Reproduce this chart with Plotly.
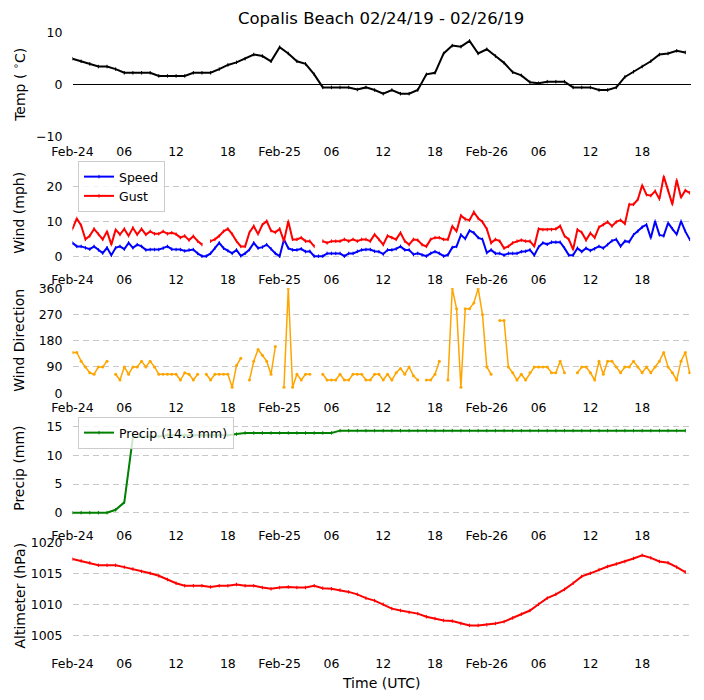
import pandas as pd
import plotly.graph_objs as go

# time axis ticks (every 6 h)
tick_hours = [0, 6, 12, 18, 24, 30, 36, 42, 48, 54, 60, 66]
tick_labels = ["Feb-24", "06", "12", "18", "Feb-25", "06", "12", "18",
               "Feb-26", "06", "12", "18"]

# hourly obs, Feb-24 00 UTC .. Feb-26 23 UTC
temp_c = [5.0, 4.5, 4.0, 3.5, 3.5, 3.0, 2.3, 2.3, 2.3, 2.3, 1.7, 1.7,
          1.7, 1.7, 2.3, 2.3, 2.3, 3.0, 3.8, 4.3, 5.0, 5.8, 5.5, 4.5,
          7.2, 6.0, 4.5, 4.0, 2.0, -0.5, -0.5, -0.5, -0.5, -0.9, -0.5, -1.0,
          -1.7, -1.0, -1.7, -1.7, -1.0, 2.0, 2.3, 6.0, 7.5, 7.3, 8.4, 6.0,
          6.8, 5.5, 4.2, 2.4, 1.8, 0.5, 0.3, 0.6, 0.6, 0.6, -0.5, -0.5,
          -0.5, -1.0, -1.0, -0.5, 1.5, 2.5, 3.5, 4.5, 5.8, 6.0, 6.5, 6.2]

precip_mm = [0.0, 0.0, 0.0, 0.0, 0.0, 0.5, 1.8, 13.2, 13.3, 13.3, 13.3, 13.5,
             13.5, 13.5, 13.5, 13.5, 13.5, 13.5, 13.5, 13.7, 13.9, 13.9, 13.9, 13.9,
             13.9, 13.9, 13.9, 13.9, 13.9, 13.9, 13.9, 14.3, 14.3, 14.3, 14.3, 14.3,
             14.3, 14.3, 14.3, 14.3, 14.3, 14.3, 14.3, 14.3, 14.3, 14.3, 14.3, 14.3,
             14.3, 14.3, 14.3, 14.3, 14.3, 14.3, 14.3, 14.3, 14.3, 14.3, 14.3, 14.3,
             14.3, 14.3, 14.3, 14.3, 14.3, 14.3, 14.3, 14.3, 14.3, 14.3, 14.3, 14.3]

altimeter_hpa = [1017.3, 1017.0, 1016.7, 1016.3, 1016.3, 1016.3, 1016.0, 1015.7,
                 1015.3, 1015.0, 1014.6, 1014.0, 1013.4, 1013.0, 1013.0, 1013.0,
                 1012.8, 1013.0, 1013.0, 1013.2, 1013.0, 1013.0, 1012.7, 1012.5,
                 1012.7, 1012.8, 1012.7, 1012.7, 1013.0, 1012.6, 1012.5, 1012.3,
                 1012.0, 1011.6, 1011.0, 1010.6, 1010.0, 1009.3, 1009.0, 1008.7,
                 1008.5, 1008.0, 1007.7, 1007.4, 1007.3, 1006.9, 1006.6, 1006.6,
                 1006.7, 1006.9, 1007.2, 1007.8, 1008.4, 1009.0, 1010.0, 1011.0,
                 1011.6, 1012.4, 1013.4, 1014.5, 1015.0, 1015.6, 1016.1, 1016.5,
                 1016.9, 1017.4, 1017.9, 1017.5, 1016.9, 1016.7, 1016.0, 1015.2]

# half-hourly wind obs
wind_speed = [4, 3, 3, 2.6, 2.2, 3, 2, 1.1, 2.6, 0.5, 2.6, 3,
              2.2, 4, 2.6, 3.5, 3, 2, 2.1, 2.1, 2.1, 2.5, 3, 2.2,
              2.1, 2.1, 1.7, 2, 2.1, 1, 0.2, 0.2, 1, 2.5, 4, 2.5,
              1.8, 1, 2, 0.3, 1, 2.1, 4, 2.5, 2.8, 3.5, 2.3, 1,
              0.2, 5, 2.5, 2, 2, 2.3, 1.5, 1.6, 0.2, 0.2, 0.2, 1,
              1, 1, 1, 0.2, 1, 1, 1.6, 2, 2.1, 2.1, 1.6, 1.5,
              0.8, 2, 2, 2.3, 3, 2, 2, 0.7, 1, 0.5, 0.2, 1,
              1.5, 1, 0.2, 0.6, 2.7, 3, 6.3, 5.2, 7.5, 6.9, 5.5, 5,
              1.2, 2, 1, 1, 0.5, 1, 1, 1, 1.5, 1.6, 2, 0.5,
              2.8, 4, 3.6, 4.2, 4.2, 4.2, 2.5, 0.5, 0.5, 2.5, 1.5, 2.5,
              1.8, 2.3, 3, 2.5, 3.5, 4.6, 5, 3, 4.5, 4.3, 6.3, 7.3,
              8.5, 9.2, 5.4, 10.2, 6.3, 6, 9.7, 8, 6.4, 10.2, 7.3, 5]

wind_gust = [8, 11, 9, 5, 6, 8, 6.5, 5, 7.3, 3.5, 7.8, 6.4,
             8, 6, 8.3, 6.4, 8, 6.4, 7.3, 6.6, 6.6, 7.3, 6.6, 6.9,
             6.5, 5.5, 6, 4.8, 5.9, 4.5, 3.5, None, 4.5, 5, 6, 7.3,
             8, 6.5, 4.5, 3, 3, 7, 8.8, 6.5, 9.2, 10.2, 7.5, 7,
             8, 4.5, 10.2, 5, 5, 5.5, 4.5, 4.5, 3, None, 4.5, 4,
             4.5, 4.5, 4.5, 5, 4.5, 5, 4.5, 5, 5, 4.5, 6.4, 5,
             3.5, 6, 5.5, 5, 6.9, 4.5, 3.5, 5, 4.8, 3.5, 3, 5,
             5.5, 5.5, 5, 5, 8.8, 7.3, 11.8, 10.8, 10.5, 12.8, 11, 10,
             8, 4, 5, 4.5, 2.5, 3, 4, 4.5, 4.8, 4.5, 4.5, 3,
             8, 7.8, 7.8, 7.8, 8, 8.8, 6, 5, 2.1, 7.8, 7, 4.8,
             6.8, 5.5, 8.5, 9.2, 10, 8.8, 10, 10.5, 9.5, 15, 15, 16.4,
             20.5, 17.8, 17.5, 18.8, 16.5, 23, 19, 15, 22, 17, 19, 18.3]

wind_dir = [140, 140, 110, 90, 70, 65, 90, 90, 110, None, 65, 45,
            90, 65, 90, 90, 110, 90, 110, 90, 65, 65, 65, 65,
            65, 45, 70, 65, 45, 65, None, 65, 45, 65, 65, 65,
            65, 20, 95, 120, None, 45, 110, 150, 130, 110, 65, 160,
            None, 20, 360, 20, 65, 45, 65, 65, None, None, 65, 45,
            45, 45, 65, 45, 45, 65, 65, 65, 45, 45, 65, 65,
            45, 65, 45, 70, 85, 65, 90, 60, 45, None, 45, 45,
            65, 110, None, 45, 360, 290, 20, 290, 290, 310, 360, 270,
            90, 65, None, 250, 250, 90, 70, 45, 65, 45, 70, 90,
            90, 90, 90, 70, 70, 110, 70, None, None, 70, 90, 90,
            70, 45, 110, 65, 110, 110, 90, 70, 90, 90, 110, 90,
            70, 90, 70, 90, 110, 140, 90, 70, 45, 110, 140, 70]

t_hour = pd.date_range("2019-02-24 00:00", periods=len(temp_c), freq="h")
t_half = pd.date_range("2019-02-24 00:00", periods=len(wind_speed), freq="30min")
t0 = pd.Timestamp("2019-02-24 00:00")
tick_vals = [t0 + pd.Timedelta(hours=h) for h in tick_hours]
x_end = t0 + pd.Timedelta(hours=71.6)

W, H = 704, 700
OFF = 8  # the page body adds an 8 px margin around the figure
FONT = "DejaVu Sans"
# panel pixel boxes (top, bottom) as seen on the page
panels = [(32.3, 137.3), (160.3, 265.3), (288.3, 393.3), (416.3, 521.3), (541.7, 649.3)]
x_left, x_right = 72.5, 690.5


def px(x):
    return (x - OFF) / W


def py(y):
    return 1 - (y - OFF) / H


fig = go.Figure()


def add_line(x, y, color, row, name=None, legend=None, msize=2.5):
    fig.add_trace(go.Scatter(
        x=x, y=y, mode="lines+markers", name=name,
        line=dict(color=color, width=2),
        marker=dict(color=color, size=msize, symbol="line-ns-open",
                    line=dict(color=color, width=1)),
        connectgaps=False,
        showlegend=name is not None,
        legend=legend,
        xaxis="x" if row == 1 else f"x{row}",
        yaxis="y" if row == 1 else f"y{row}",
    ))


add_line(t_hour, temp_c, "black", 1)
add_line(t_half, wind_speed, "blue", 2, "Speed", "legend")
add_line(t_half, wind_gust, "red", 2, "Gust", "legend")
fig.add_trace(go.Scatter(
    x=t_half, y=wind_dir, mode="lines+markers", line=dict(color="orange", width=1.5),
    marker=dict(color="orange", size=3), connectgaps=False, showlegend=False,
    xaxis="x3", yaxis="y3"))
add_line(t_hour, precip_mm, "green", 4, "Precip (14.3 mm)", "legend2")
add_line(t_hour, altimeter_hpa, "red", 5)

y_ranges = [[-10.05, 10.05], [-2.4, 27.6], [-0.5, 360.5], [-1.5, 16.8], [1002.74, 1020.1]]
y_ticks = [[-10, 0, 10], [0, 10, 20], [0, 90, 180, 270, 360], [0, 5, 10, 15],
           [1005, 1010, 1015, 1020]]
y_titles = ["Temp ( <sup>∘</sup>C)", "Wind (mph)", "Wind Direction", "Precip (mm)",
            "Altimeter (hPa)"]

layout = dict(
    width=W, height=H,
    margin=dict(l=0, r=0, t=0, b=0, autoexpand=False),
    paper_bgcolor="white", plot_bgcolor="white",
    font=dict(family=FONT, size=12, color="black"),
    annotations=[],
)
for i, (top, bot) in enumerate(panels):
    n = "" if i == 0 else str(i + 1)
    layout[f"xaxis{n}"] = dict(
        domain=[px(x_left), px(x_right)],
        anchor=f"y{n}", type="date",
        range=[t0, x_end],
        tickvals=tick_vals, ticktext=tick_labels,
        showgrid=False, zeroline=False, showline=False,
        ticks="", ticklabelstandoff=5, automargin=False,
        tickfont=dict(size=12.5),
    )
    layout[f"yaxis{n}"] = dict(
        domain=[py(bot), py(top)],
        anchor=f"x{n}",
        range=y_ranges[i], tickvals=y_ticks[i],
        showgrid=True, gridcolor="#c8c8c8", gridwidth=1, griddash="6px,4px",
        zeroline=(i == 0), zerolinecolor="black", zerolinewidth=1,
        showline=False, ticks="", ticklabelstandoff=9, automargin=False,
        tickfont=dict(size=12.5),
    )
    layout["annotations"].append(dict(
        text=y_titles[i], textangle=-90, xref="paper", yref="paper",
        x=px(19), y=py((top + bot) / 2), xanchor="center", yanchor="middle",
        showarrow=False, font=dict(size=14),
    ))

layout["annotations"].append(dict(
    text="Copalis Beach 02/24/19 - 02/26/19", xref="paper", yref="paper",
    x=px(381), y=py(19), xanchor="center", yanchor="middle",
    showarrow=False, font=dict(size=16.5)))
layout["annotations"].append(dict(
    text="Time (UTC)", xref="paper", yref="paper",
    x=px(381), y=py(683), xanchor="center", yanchor="middle",
    showarrow=False, font=dict(size=14)))

legend_style = dict(
    xanchor="left", yanchor="top", bgcolor="rgba(255,255,255,0.8)",
    bordercolor="#cccccc", borderwidth=1, font=dict(size=12.5),
    itemwidth=30, tracegroupgap=0,
)
layout["legend"] = dict(x=px(78), y=py(161), **legend_style)
layout["legend2"] = dict(x=px(78), y=py(417), **legend_style)

fig.update_layout(**layout)

fig.write_html("out.html")
